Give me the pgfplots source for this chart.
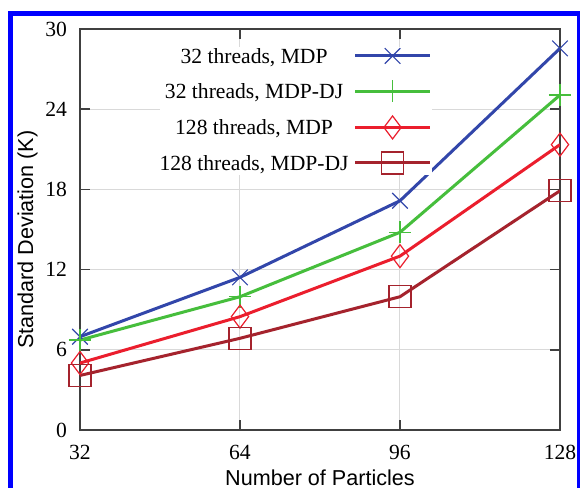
\documentclass[border=0pt]{standalone}
\usepackage{fontspec}
\setmainfont{Liberation Serif}
\setsansfont{Liberation Sans}
\usepackage{pgfplots}
\pgfplotsset{compat=1.18}
\definecolor{cblue}{RGB}{50,70,170}
\definecolor{cgreen}{RGB}{70,190,60}
\definecolor{cred}{RGB}{235,30,45}
\definecolor{cdred}{RGB}{165,35,45}
\newcommand{\fs}{\fontsize{10.8}{13}\selectfont}
\begin{document}
\begin{tikzpicture}
\useasboundingbox (0,0) rectangle (290pt,244pt);
\fill[white] (0,0) rectangle (290pt,244pt);
\begin{axis}[
  at={(40pt,29pt)}, anchor=south west,
  scale only axis, width=240pt, height=200.5pt,
  xmin=32, xmax=128, ymin=0, ymax=30,
  xtick={32,64,96,128}, ytick={0,6,12,18,24,30},
  /pgf/number format/assume math mode=true,
  tick align=inside, major tick length=5pt,
  every tick/.style={black!75, line width=0.75pt},
  grid=major, major grid style={black!15, line width=0.5pt},
  axis line style={black!75, line width=0.75pt},
  tick label style={font=\rmfamily\fs},
  yticklabel style={xshift=-3pt},
  xticklabel style={yshift=-4pt},
  xlabel={Number of Particles}, ylabel={Standard Deviation (K)},
  every axis x label/.style={at={(axis description cs:0.5,-0.1384)}, anchor=base, font=\sffamily\fs},
  every axis y label/.style={at={(axis description cs:-0.0979,0.4746)}, rotate=90, anchor=base, font=\sffamily\fs},
  legend plot pos=right,
  legend cell align=right,
  legend style={at={(axis description cs:0.7333,0.955)}, anchor=north east,
    draw=none, fill=white, inner sep=0pt, font=\rmfamily\fs,
    row sep=6pt, column sep=2.5pt,
    nodes={inner sep=0pt, text height=8pt, text depth=2.5pt, anchor=base, font=\rmfamily\fs}},
  legend image code/.code={\draw[mark repeat=2, mark phase=2, #1] plot coordinates {(0pt,3.75pt) (18.75pt,3.75pt) (37.5pt,3.75pt)};},
  every axis plot/.append style={line width=1.5pt, mark size=5.5pt, mark options={line width=0.6pt}},
]
\addplot[cblue, mark=x] coordinates {(32,6.98) (64,11.42) (96,17.15) (128,28.55)};
\addlegendentry{32 threads, MDP}
\addplot[cgreen, mark=+] coordinates {(32,6.73) (64,9.97) (96,14.79) (128,25.06)};
\addlegendentry{32 threads, MDP-DJ}
\addplot[cred, mark=diamond, mark size=5.75pt] coordinates {(32,5.01) (64,8.48) (96,13.01) (128,21.35)};
\addlegendentry{128 threads, MDP}
\addplot[cdred, mark=square] coordinates {(32,4.08) (64,6.86) (96,9.97) (128,17.9)};
\addlegendentry{128 threads, MDP-DJ}
\end{axis}
\draw[blue, line width=2.5pt] (5pt,-10pt) -- (5pt,237.25pt) -- (289.75pt,237.25pt) -- (289.75pt,-10pt);
\end{tikzpicture}
\end{document}
